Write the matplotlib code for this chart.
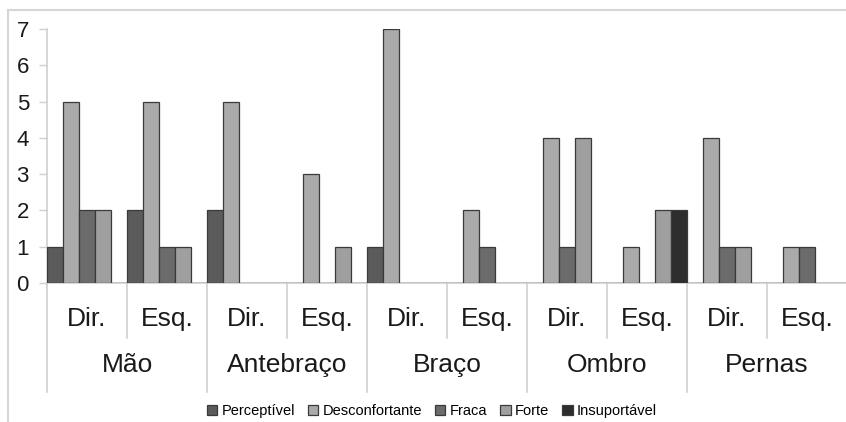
import numpy as np
import matplotlib
matplotlib.use("Agg")
from matplotlib import pyplot as plt
from matplotlib.lines import Line2D
import matplotlib.transforms as mtransforms

## Data ##

groups = ["Mão", "Antebraço", "Braço", "Ombro", "Pernas"]
sides = ["Dir.", "Esq."]
series = ["Perceptível", "Desconfortante", "Fraca", "Forte", "Insuportável"]

# one value per (group, side), in order Mão Dir., Mão Esq., Antebraço Dir., ...
perceptivel    = [1, 2, 2, 0, 1, 0, 0, 0, 0, 0]
desconfortante = [5, 5, 5, 3, 7, 2, 4, 1, 4, 1]
fraca          = [2, 1, 0, 0, 0, 1, 1, 0, 1, 1]
forte          = [2, 1, 0, 1, 0, 0, 4, 2, 1, 0]
insuportavel   = [0, 0, 0, 0, 0, 0, 0, 2, 0, 0]

colors = ["#5b5b5b", "#aaaaaa", "#6b6b6b", "#9f9f9f", "#2e2e2e"]

plt.rcParams['font.family'] = ['Liberation Sans', 'DejaVu Sans']

W, H = 846, 422
fig = plt.figure(figsize=(W / 100, H / 100), dpi=100)
# axes: x from 47 to 847 px, y zero at 283 px, 7 at 29 px
ax = fig.add_axes([47 / W, (H - 283) / H, 800 / W, 254 / H])

values = [perceptivel, desconfortante, fraca, forte, insuportavel]
n_cat = len(perceptivel)
bw = 1.0 / len(series)
x0 = np.arange(n_cat)
for k, (name, vals) in enumerate(zip(series, values)):
    ax.bar(x0 + (k + 0.5) * bw, vals, width=bw, color=colors[k],
           edgecolor="#3a3a3a", linewidth=0.9, label=name, zorder=3)

ax.set_xlim(0, n_cat)
ax.set_ylim(0, 7)
ax.set_yticks(range(0, 8))
ax.tick_params(axis="y", length=6, width=1, color="#cfcfcf", labelsize=16,
               labelcolor="#1a1a1a", pad=7)
ax.set_xticks([])
for s in ["top", "right"]:
    ax.spines[s].set_visible(False)
ax.spines["left"].set_color("#cfcfcf")
ax.spines["bottom"].set_color("#cfcfcf")
ax.spines["left"].set_linewidth(1.2)
ax.spines["bottom"].set_linewidth(1.2)

# category separators and labels below axis
trans = mtransforms.blended_transform_factory(ax.transData, ax.transAxes)
y_sub = -55 / 254
y_grp = -109 / 254
for i in range(n_cat + 1):
    y_end = y_grp if i % 2 == 0 else y_sub
    ax.plot([i, i], [0, y_end], transform=trans, color="#cfcfcf", lw=1.2,
            clip_on=False)
for i in range(n_cat):
    ax.text(i + 0.5, -36 / 254, sides[i % 2], transform=trans, ha="center",
            va="center", fontsize=19, color="#1a1a1a")
for g, name in enumerate(groups):
    ax.text(2 * g + 1, -82 / 254, name, transform=trans, ha="center",
            va="center", fontsize=19, color="#1a1a1a")

# chart border
fig.add_artist(Line2D([8 / W, 8 / W], [0, (H - 10) / H], color="#d6d6d6", lw=1.5))
fig.add_artist(Line2D([8 / W, 1], [(H - 10) / H, (H - 10) / H], color="#d6d6d6", lw=1.5))

fig.legend(loc="center", bbox_to_anchor=(432 / W, 11 / H), ncol=5,
           frameon=False, fontsize=10.5, handlelength=0.7, handleheight=0.7,
           handletextpad=0.3, columnspacing=0.9, borderpad=0)

plt.savefig("out.png", dpi=100)
plt.close()
